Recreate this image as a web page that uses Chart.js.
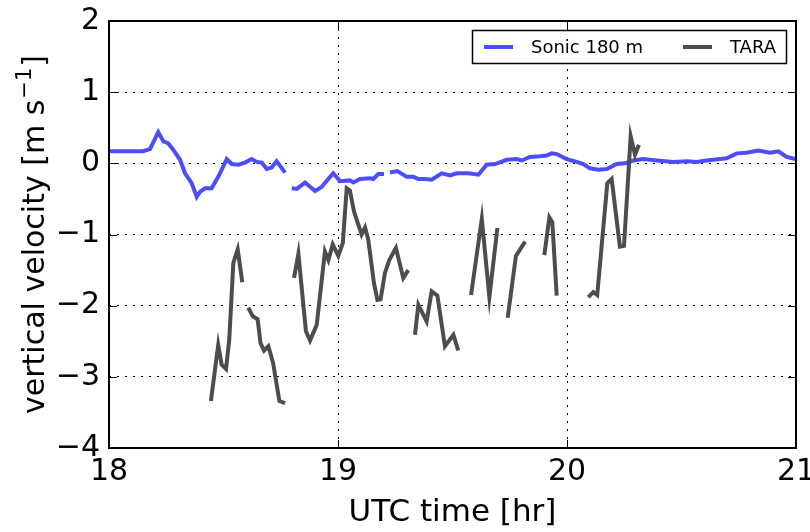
<!DOCTYPE html>
<html>
<head>
<meta charset="utf-8">
<script src="https://cdn.jsdelivr.net/npm/chart.js@4/dist/chart.umd.min.js"></script>
<style>
  html, body { margin: 0; padding: 0; background: #fff; }
  #wrap { width: 810px; height: 532px; }
</style>
</head>
<body>
<div id="wrap"><canvas id="chart"></canvas></div>
<script>
/* ---- data: time [hr UTC], vertical velocity [m/s]; null = gap ---- */
const sonicTime = [18.004, 18.148, 18.179, 18.215, 18.237, 18.259, 18.281, 18.310, 18.332, 18.361,
  18.383, 18.397, 18.419, 18.448, 18.477, 18.514, 18.536, 18.565, 18.594, 18.623,
  18.645, 18.667, 18.689, 18.710, 18.732, 18.769, 18.784,
  18.798, 18.820, 18.856, 18.900, 18.929, 18.979, 19.009, 19.052, 19.067, 19.096,
  19.140, 19.154, 19.176, 19.201, 19.214,
  19.227, 19.259, 19.300, 19.329, 19.351, 19.380, 19.409, 19.453, 19.489, 19.518,
  19.569, 19.613, 19.649, 19.686, 19.737, 19.780, 19.802, 19.838, 19.882, 19.911,
  19.933, 19.955, 19.999, 20.042, 20.071, 20.100, 20.137, 20.173, 20.217, 20.253,
  20.290, 20.333, 20.392, 20.464, 20.523, 20.566, 20.610, 20.668, 20.697, 20.741,
  20.784, 20.835, 20.886, 20.923, 20.959, 20.996];
const sonicW = [0.17, 0.17, 0.20, 0.44, 0.31, 0.28, 0.19, 0.05, -0.14, -0.28,
  -0.47, -0.40, -0.35, -0.35, -0.19, 0.06, -0.01, -0.02, 0.01, 0.06,
  0.02, 0.01, -0.08, -0.06, 0.03, -0.13, null,
  -0.35, -0.36, -0.27, -0.39, -0.33, -0.14, -0.25, -0.24, -0.27, -0.22,
  -0.21, -0.22, -0.15, -0.15, null,
  -0.13, -0.11, -0.19, -0.19, -0.22, -0.22, -0.23, -0.14, -0.17, -0.14,
  -0.14, -0.16, -0.02, -0.01, 0.05, 0.06, 0.04, 0.09, 0.10, 0.11,
  0.14, 0.13, 0.06, 0.02, -0.01, -0.07, -0.09, -0.08, -0.01, 0.00,
  0.04, 0.06, 0.04, 0.02, 0.03, 0.02, 0.04, 0.06, 0.07, 0.14,
  0.15, 0.18, 0.15, 0.17, 0.09, 0.06];

const taraTime = [18.445, 18.477, 18.492, 18.511, 18.525, 18.543, 18.562, 18.582, 18.595,
  18.608, 18.628, 18.649, 18.662, 18.677, 18.696, 18.717, 18.744, 18.769, 18.790,
  18.808, 18.827, 18.860, 18.878, 18.907, 18.943, 18.958, 18.977, 19.001, 19.021,
  19.038, 19.052, 19.070, 19.103, 19.118, 19.132, 19.157, 19.172, 19.186, 19.205,
  19.224, 19.253, 19.285, 19.307, 19.320,
  19.336, 19.351, 19.387, 19.409, 19.434, 19.467, 19.504, 19.525, 19.550,
  19.581, 19.628, 19.661, 19.696, 19.720,
  19.741, 19.777, 19.817, 19.860,
  19.901, 19.923, 19.936, 19.955, 20.020,
  20.093, 20.115, 20.132, 20.176, 20.195, 20.231, 20.249, 20.278, 20.297, 20.314];
const taraW = [-3.34, -2.55, -2.83, -2.89, -2.48, -1.40, -1.21, -1.67, null,
  -2.03, -2.15, -2.19, -2.53, -2.63, -2.57, -2.81, -3.34, -3.37, null,
  -1.61, -1.27, -2.36, -2.49, -2.27, -1.24, -1.36, -1.14, -1.30, -1.12,
  -0.35, -0.38, -0.68, -1.00, -0.90, -1.07, -1.68, -1.92, -1.91, -1.54,
  -1.36, -1.19, -1.61, -1.50, null,
  -2.41, -1.99, -2.22, -1.80, -1.86, -2.57, -2.41, -2.63, null,
  -1.85, -0.78, -1.88, -0.91, null,
  -2.17, -1.30, -1.10, null,
  -1.29, -0.76, -0.83, -1.86, null,
  -1.88, -1.81, -1.85, -0.28, -0.22, -1.17, -1.16, 0.38, 0.12, 0.26];

const xTicks = [18, 19, 20, 21];
const yTicks = [-4, -3, -2, -1, 0, 1, 2];

const FONT = "'DejaVu Sans', sans-serif";

function toPoints(xs, ys) {
  return xs.map((x, i) => ({ x: x, y: ys[i] }));
}

/* ---- box, inward tick marks, y title with superscript, framed legend ---- */
const framePlugin = {
  id: "frame",
  afterDraw(chart) {
    const { ctx, chartArea: a, scales } = chart;
    ctx.save();
    ctx.strokeStyle = "#000";
    ctx.lineWidth = 1;
    const len = 8;
    ctx.beginPath();
    xTicks.forEach(v => {
      const px = Math.round(scales.x.getPixelForValue(v)) + 0.5;
      ctx.moveTo(px, a.bottom); ctx.lineTo(px, a.bottom - len);
      ctx.moveTo(px, a.top); ctx.lineTo(px, a.top + len);
    });
    yTicks.forEach(v => {
      const py = Math.round(scales.y.getPixelForValue(v)) + 0.5;
      ctx.moveTo(a.left, py); ctx.lineTo(a.left + len, py);
      ctx.moveTo(a.right, py); ctx.lineTo(a.right - len, py);
    });
    ctx.stroke();

    ctx.lineWidth = 2;
    ctx.strokeRect(a.left, a.top, a.right - a.left, a.bottom - a.top);

    // y axis title: vertical velocity [m s^-1]
    const main = "vertical velocity [m s", sup = "\u22121", tail = "]";
    const bigF = "30px " + FONT, supF = "21px " + FONT;
    ctx.font = bigF;
    const w1 = ctx.measureText(main).width, w3 = ctx.measureText(tail).width;
    ctx.font = supF;
    const w2 = ctx.measureText(sup).width;
    const total = w1 + w2 + w3 + 2;
    ctx.translate(34, (a.top + a.bottom) / 2);
    ctx.rotate(-Math.PI / 2);
    ctx.fillStyle = "#000";
    ctx.textAlign = "left";
    ctx.textBaseline = "alphabetic";
    let x0 = -total / 2;
    ctx.font = bigF;
    ctx.fillText(main, x0, 10);
    ctx.font = supF;
    ctx.fillText(sup, x0 + w1 + 1, -3);
    ctx.font = bigF;
    ctx.fillText(tail, x0 + w1 + w2 + 2, 10);
    ctx.setTransform(1, 0, 0, 1, 0, 0);

    // legend
    const bx = 472.5, by = 30.5, bw = 314, bh = 33;
    ctx.fillStyle = "#fff";
    ctx.fillRect(bx, by, bw, bh);
    ctx.lineWidth = 1.5;
    ctx.strokeRect(bx, by, bw, bh);
    const cy = by + bh / 2;
    const slots = [{ lx: 484, tx: 531 }, { lx: 683, tx: 730 }];
    ctx.font = "18px " + FONT;
    ctx.textBaseline = "middle";
    ctx.textAlign = "left";
    chart.data.datasets.forEach((ds, i) => {
      const s = slots[i];
      ctx.strokeStyle = ds.borderColor;
      ctx.lineWidth = 4;
      ctx.beginPath();
      ctx.moveTo(s.lx, cy); ctx.lineTo(s.lx + 29, cy);
      ctx.stroke();
      ctx.fillStyle = "#000";
      ctx.fillText(ds.label, s.tx, cy + 1);
    });
    ctx.restore();
  }
};

const ctx = document.getElementById("chart").getContext("2d");
new Chart(ctx, {
  type: "line",
  data: {
    datasets: [
      {
        label: "Sonic 180 m",
        data: toPoints(sonicTime, sonicW),
        borderColor: "#4d4dff",
        borderWidth: 4,
        pointRadius: 0,
        spanGaps: false,
        order: 1
      },
      {
        label: "TARA",
        data: toPoints(taraTime, taraW),
        borderColor: "#4d4d4d",
        borderWidth: 4,
        pointRadius: 0,
        spanGaps: false,
        order: 0
      }
    ]
  },
  options: {
    responsive: true,
    maintainAspectRatio: false,
    animation: false,
    events: [],
    layout: { padding: { top: 21, right: 14, bottom: 0, left: 0 } },
    plugins: { legend: { display: false }, tooltip: { enabled: false } },
    scales: {
      x: {
        type: "linear",
        min: 18, max: 21,
        afterBuildTicks: s => { s.ticks = xTicks.map(v => ({ value: v })); },
        afterFit: s => { s.height = 84; s.paddingLeft = 0; s.paddingRight = 0; },
        ticks: { color: "#000", font: { family: FONT, size: 30 }, padding: 6, maxRotation: 0 },
        grid: { color: "#000", lineWidth: 1, drawTicks: false },
        border: { display: false, dash: [2, 6] },
        title: { display: true, text: "UTC time [hr]", color: "#000",
                 font: { family: FONT, size: 31 }, padding: { top: 0, bottom: 0 } }
      },
      y: {
        min: -4, max: 2,
        afterBuildTicks: s => { s.ticks = yTicks.map(v => ({ value: v })); },
        afterFit: s => { s.width = 109; s.paddingTop = 0; s.paddingBottom = 0; },
        ticks: {
          color: "#000", font: { family: FONT, size: 30 }, padding: 9,
          callback: v => String(v).replace("-", "\u2212")
        },
        grid: { color: "#000", lineWidth: 1, drawTicks: false },
        border: { display: false, dash: [2, 6] },
        title: { display: false }
      }
    }
  },
  plugins: [framePlugin]
});
</script>
</body>
</html>
